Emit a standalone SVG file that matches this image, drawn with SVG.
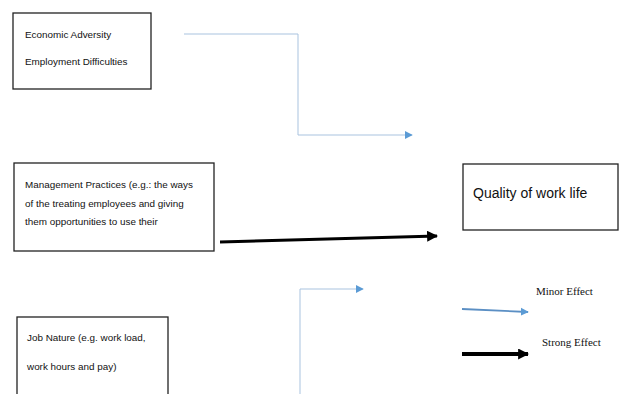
<svg xmlns="http://www.w3.org/2000/svg" width="625" height="394" viewBox="0 0 625 394">
<style>
.box{fill:#fff;stroke:#222;stroke-width:1.3}
.t{font-family:"Liberation Sans",Arial,sans-serif;font-size:9.9px;fill:#111}
.q{font-family:"Liberation Sans",Arial,sans-serif;font-size:14px;fill:#111}
.s{font-family:"Liberation Serif","Times New Roman",serif;font-size:11px;fill:#111}
.minor{fill:none;stroke:#a9c3df;stroke-width:1}
.strong{fill:none;stroke:#000;stroke-width:3}
</style>
<defs>
<marker id="ab" viewBox="0 0 10 10" refX="9" refY="5" markerWidth="8" markerHeight="10" markerUnits="userSpaceOnUse" orient="auto"><path d="M0,0L10,5L0,10Z" fill="#5b9bd5"/></marker>
<marker id="ak" viewBox="0 0 10 10" refX="9" refY="5" markerWidth="11" markerHeight="11" markerUnits="userSpaceOnUse" orient="auto"><path d="M0,0L10,5L0,10Z" fill="#000"/></marker>
</defs>
<rect width="625" height="394" fill="#fff"/>
<g id="econ">
<rect class="box" x="13" y="13" width="138" height="76"/>
<text class="t" x="25" y="38">Economic Adversity</text>
<text class="t" x="25" y="65">Employment Difficulties</text>
</g>
<g id="mgmt">
<rect class="box" x="14" y="163" width="200" height="88"/>
<text class="t" x="25" y="188">Management Practices (e.g.: the ways</text>
<text class="t" x="25" y="207">of the treating employees and giving</text>
<text class="t" x="25" y="225">them opportunities to use their</text>
</g>
<g id="job">
<rect class="box" x="17" y="317" width="151" height="100"/>
<text class="t" x="27" y="341">Job Nature (e.g. work load,</text>
<text class="t" x="27" y="370">work hours and pay)</text>
</g>
<g id="qwl">
<rect class="box" x="463" y="164" width="155" height="66"/>
<text class="q" x="473" y="198">Quality of work life</text>
</g>
<g id="legend">
<path class="minor" d="M462,309 L528,312" style="stroke:#5b8fc4;stroke-width:1.8" marker-end="url(#ab)"/>
<text class="s" x="536" y="295">Minor Effect</text>
<path class="strong" d="M462,354 L528,354" style="stroke-width:4" marker-end="url(#ak)"/>
<text class="s" x="542" y="346">Strong Effect</text>
</g>
<g id="connectors">
<path class="minor" d="M184,34 H298 V135 H412" marker-end="url(#ab)"/>
<path class="strong" d="M220,242 L437,236" marker-end="url(#ak)"/>
<path class="minor" d="M300,400 V289 H363" marker-end="url(#ab)"/>
</g>
</svg>
